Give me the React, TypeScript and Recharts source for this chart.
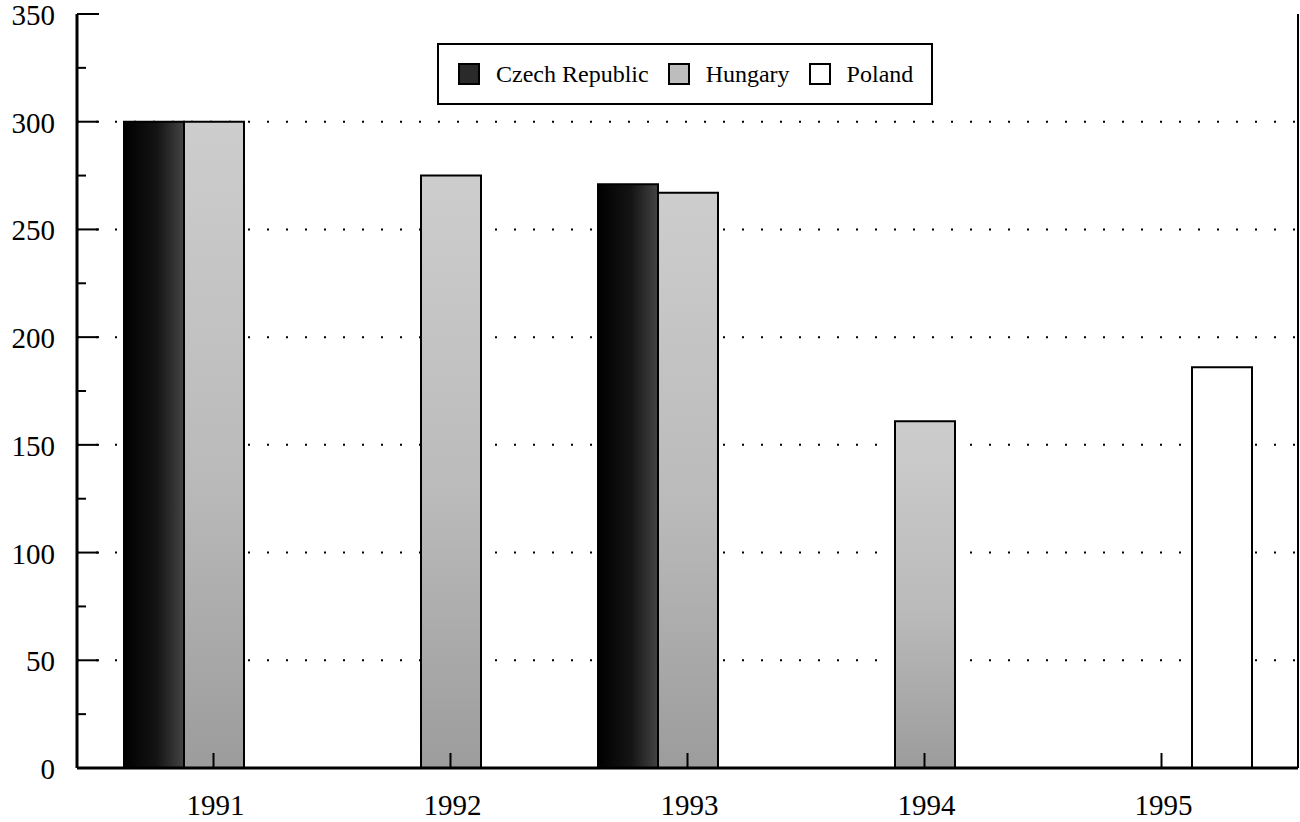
import React from 'react';
import {
  BarChart,
  Bar,
  XAxis,
  YAxis,
  CartesianGrid,
  Legend,
} from 'recharts';

const years = ['1991', '1992', '1993', '1994', '1995'];
const czechRepublic = [300, null, 271, null, null];
const hungary = [300, 275, 267, 161, null];
const poland = [null, null, null, null, 186];

const yTicks = [0, 25, 50, 75, 100, 125, 150, 175, 200, 225, 250, 275, 300, 325, 350];
const gridValues = [50, 100, 150, 200, 250, 300];

const chartData = years.map((year, i) => ({
  year,
  czech: czechRepublic[i],
  hungary: hungary[i],
  poland: poland[i],
}));

const FONT = '"Liberation Serif", "Times New Roman", serif';

const legendItems = [
  { label: 'Czech Republic', swatch: '#2a2a2a' },
  { label: 'Hungary', swatch: '#bdbdbd' },
  { label: 'Poland', swatch: '#ffffff' },
];

const YTick = (props: any) => {
  const { x, y, payload } = props;
  const major = payload.value % 50 === 0;
  return (
    <g>
      <line x1={x} x2={x + (major ? 22 : 9)} y1={y} y2={y} stroke="#000" strokeWidth={2} />
      {major && (
        <text x={x - 22} y={y} dy={11} textAnchor="end" fontFamily={FONT} fontSize={29} fill="#000">
          {payload.value}
        </text>
      )}
    </g>
  );
};

const XTick = (props: any) => {
  const { x, y, payload } = props;
  return (
    <g>
      <line x1={x} x2={x} y1={y} y2={y - 15} stroke="#000" strokeWidth={2} />
      <text x={x + 2} y={y + 47} textAnchor="middle" fontFamily={FONT} fontSize={29} fill="#000">
        {payload.value}
      </text>
    </g>
  );
};

const LegendBox = () => (
  <div
    style={{
      boxSizing: 'border-box',
      width: 496,
      height: 62,
      border: '2px solid #000',
      background: '#fff',
      display: 'flex',
      alignItems: 'center',
      paddingLeft: 19,
      fontFamily: FONT,
      fontSize: 24,
      color: '#000',
    }}
  >
    {legendItems.map((item, i) => (
      <div key={item.label} style={{ display: 'flex', alignItems: 'center', marginRight: i < 2 ? 19 : 0 }}>
        <span
          style={{
            display: 'inline-block',
            boxSizing: 'border-box',
            width: 22,
            height: 22,
            border: '2px solid #000',
            background: item.swatch,
            marginRight: 16,
          }}
        />
        <span>{item.label}</span>
      </div>
    ))}
  </div>
);

const App: React.FC = () => {
  return (
    <div style={{ position: 'absolute', left: 0, top: 0, width: 1300, height: 822, background: '#fff' }}>
      <BarChart
        width={1300}
        height={822}
        data={chartData}
        margin={{ top: 14, right: 0, left: 0, bottom: 0 }}
        barCategoryGap={29}
        barGap={0}
      >
        <defs>
          <linearGradient id="czechFill" x1="0" y1="0" x2="1" y2="0">
            <stop offset="0%" stopColor="#000" />
            <stop offset="55%" stopColor="#141414" />
            <stop offset="100%" stopColor="#444" />
          </linearGradient>
          <linearGradient id="hungaryFill" x1="0" y1="0" x2="0" y2="1">
            <stop offset="0%" stopColor="#cdcdcd" />
            <stop offset="55%" stopColor="#bababa" />
            <stop offset="100%" stopColor="#9c9c9c" />
          </linearGradient>
        </defs>
        <CartesianGrid
          horizontal
          vertical={false}
          horizontalValues={gridValues}
          stroke="#000"
          strokeWidth={2}
          strokeDasharray="2 17"
        />
        <XAxis
          dataKey="year"
          xAxisId={0}
          height={54}
          padding={{ left: 18, right: 18 }}
          axisLine={{ stroke: '#000', strokeWidth: 3 }}
          tickLine={false}
          tickSize={0}
          tickMargin={0}
          tick={<XTick />}
          interval={0}
        />
        <XAxis
          dataKey="year"
          xAxisId="top"
          orientation="top"
          height={0}
          axisLine={{ stroke: '#000', strokeWidth: 2 }}
          tick={false}
          tickLine={false}
        />
        <YAxis
          yAxisId={0}
          width={77}
          domain={[0, 350]}
          ticks={yTicks}
          interval={0}
          axisLine={{ stroke: '#000', strokeWidth: 3 }}
          tickLine={false}
          tickSize={0}
          tickMargin={0}
          tick={<YTick />}
        />
        <YAxis
          yAxisId="right"
          orientation="right"
          width={2}
          domain={[0, 350]}
          axisLine={{ stroke: '#000', strokeWidth: 2 }}
          tick={false}
          tickLine={false}
        />
        <Legend
          layout="horizontal"
          verticalAlign="middle"
          align="center"
          content={<LegendBox />}
          wrapperStyle={{ position: 'absolute', left: 437, top: 43, width: 496, height: 62 }}
        />
        <Bar dataKey="czech" name="Czech Republic" fill="url(#czechFill)" stroke="#000" strokeWidth={2} isAnimationActive={false} />
        <Bar dataKey="hungary" name="Hungary" fill="url(#hungaryFill)" stroke="#000" strokeWidth={2} isAnimationActive={false} />
        <Bar dataKey="poland" name="Poland" fill="#fff" stroke="#000" strokeWidth={2} isAnimationActive={false} />
      </BarChart>
    </div>
  );
};

export default App;
